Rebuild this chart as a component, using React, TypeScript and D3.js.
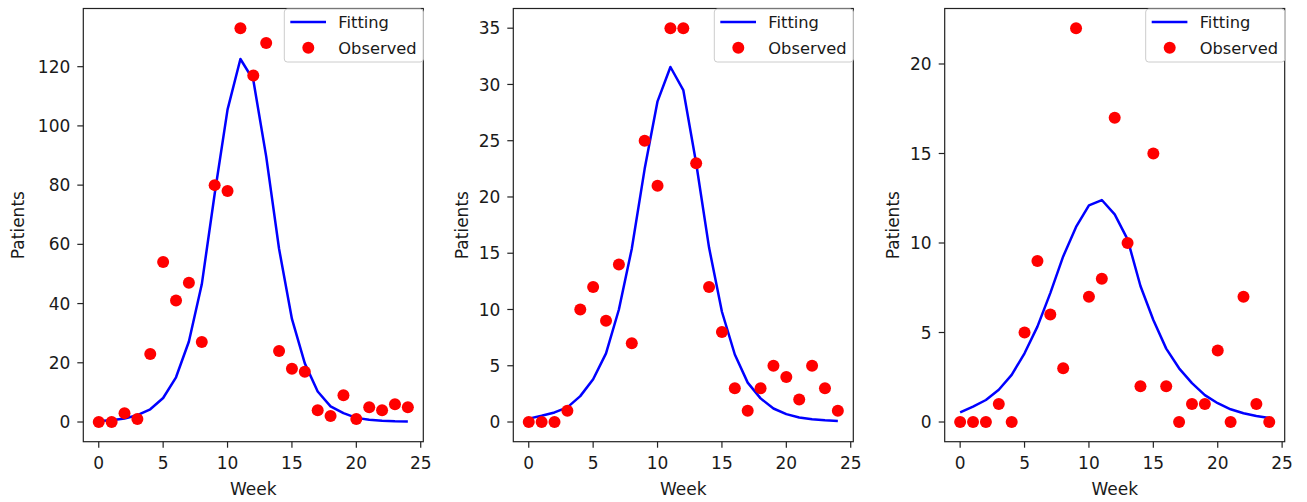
import React from "react";
import * as d3 from "d3";

const weeks = d3.range(0, 25);

const fit1 = [0.3, 0.6, 1.2, 2.3, 4.3, 8.1, 15.1, 27.2, 46.5, 77, 105.5, 122.6, 115.5, 89.7, 58.5, 34.8, 19.8, 10.3, 5.3, 3.0, 1.4, 0.8, 0.45, 0.25, 0.15];
const obs1 = [0, 0, 3, 1, 23, 54, 41, 47, 27, 80, 78, 133, 117, 128, 24, 18, 17, 4, 2, 9, 1, 5, 4, 6, 5];

const fit2 = [0.3, 0.55, 0.85, 1.3, 2.3, 3.8, 6.1, 10, 15.4, 22.5, 28.5, 31.55, 29.5, 23, 15.5, 9.8, 6, 3.5, 2.1, 1.2, 0.7, 0.4, 0.25, 0.15, 0.1];
const obs2 = [0, 0, 0, 1, 10, 12, 9, 14, 7, 25, 21, 35, 35, 23, 12, 8, 3, 1, 3, 5, 4, 2, 5, 3, 1];

const fit3 = [0.54, 0.86, 1.23, 1.8, 2.63, 3.84, 5.33, 7.2, 9.25, 10.9, 12.1, 12.4, 11.6, 10.2, 7.6, 5.7, 4.1, 3.0, 2.17, 1.5, 1.05, 0.71, 0.49, 0.34, 0.22];
const obs3 = [0, 0, 0, 1, 0, 5, 9, 6, 3, 22, 7, 8, 17, 10, 2, 15, 2, 0, 1, 1, 4, 0, 7, 1, 0];

const xTicks = [0, 5, 10, 15, 20, 25];
const yTicks1 = [0, 20, 40, 60, 80, 100, 120];
const yTicks2 = [0, 5, 10, 15, 20, 25, 30, 35];
const yTicks3 = [0, 5, 10, 15, 20];

const legendLabels = ["Fitting", "Observed"];
const xLabel = "Week";
const yLabel = "Patients";

const FONT = "'DejaVu Sans', sans-serif";
const TXT = "#1a1a1a";

type PanelProps = {
  left: number;
  fit: number[];
  obs: number[];
  yTicks: number[];
  ylabelX: number;
};

function Panel({ left, fit, obs, yTicks, ylabelX }: PanelProps) {
  const top = 8.5;
  const bottom = 441.7;
  const width = 340;
  const right = left + width;
  const ext = d3.extent([...fit, ...obs]) as [number, number];
  const ymin = Math.min(0, ext[0]);
  const ymax = ext[1];
  const ypad = (ymax - ymin) * 0.05;
  const x = d3.scaleLinear().domain([-1.2, 25.2]).range([left, right]);
  const y = d3.scaleLinear().domain([ymin - ypad, ymax + ypad]).range([bottom, top]);
  const line = d3
    .line<number>()
    .x((_, i) => x(weeks[i]))
    .y((d) => y(d));
  const tickLen = 6;
  const lgX = right - 139;
  const lgY = 9;
  return (
    <g>
      <path d={line(fit) || ""} fill="none" stroke="#0000ff" strokeWidth={2.5} strokeLinejoin="round" />
      {obs.map((v, i) => (
        <circle key={i} cx={x(weeks[i])} cy={y(v)} r={6} fill="#ff0000" />
      ))}
      <rect x={left} y={top} width={width} height={bottom - top} fill="none" stroke="#222" strokeWidth={1.2} />
      {xTicks.map((t) => (
        <g key={"x" + t}>
          <line x1={x(t)} x2={x(t)} y1={bottom} y2={bottom + tickLen} stroke="#222" strokeWidth={1.2} />
          <text x={x(t)} y={469} textAnchor="middle" fontFamily={FONT} fontSize={17} fill={TXT}>
            {t}
          </text>
        </g>
      ))}
      {yTicks.map((t) => (
        <g key={"y" + t}>
          <line x1={left - tickLen} x2={left} y1={y(t)} y2={y(t)} stroke="#222" strokeWidth={1.2} />
          <text x={left - tickLen - 7} y={y(t)} dy="0.36em" textAnchor="end" fontFamily={FONT} fontSize={17} fill={TXT}>
            {t}
          </text>
        </g>
      ))}
      <text x={(left + right) / 2} y={495} textAnchor="middle" fontFamily={FONT} fontSize={17} fill={TXT}>
        {xLabel}
      </text>
      <text
        transform={`translate(${ylabelX},${(top + bottom) / 2}) rotate(-90)`}
        textAnchor="middle"
        dy="0.36em"
        fontFamily={FONT}
        fontSize={17}
        fill={TXT}
      >
        {yLabel}
      </text>
      <g>
        <rect x={lgX} y={lgY} width={139} height={53} rx={3} fill="#fff" fillOpacity={0.8} stroke="#cccccc" strokeWidth={1} />
        <line x1={lgX + 6} x2={lgX + 41.7} y1={lgY + 13} y2={lgY + 13} stroke="#0000ff" strokeWidth={2.5} />
        <text x={lgX + 54} y={lgY + 13} dy="0.36em" fontFamily={FONT} fontSize={16.3} fill={TXT}>
          {legendLabels[0]}
        </text>
        <circle cx={lgX + 24} cy={lgY + 38.7} r={6} fill="#ff0000" />
        <text x={lgX + 54} y={lgY + 38.7} dy="0.36em" fontFamily={FONT} fontSize={16.3} fill={TXT}>
          {legendLabels[1]}
        </text>
      </g>
    </g>
  );
}

export default function App() {
  return (
    <svg
      width={1307}
      height={502}
      style={{ position: "absolute", left: 0, top: 0, background: "#fff" }}
    >
      <Panel left={83.3} fit={fit1} obs={obs1} yTicks={yTicks1} ylabelX={18} />
      <Panel left={513.3} fit={fit2} obs={obs2} yTicks={yTicks2} ylabelX={462} />
      <Panel left={944.7} fit={fit3} obs={obs3} yTicks={yTicks3} ylabelX={893} />
    </svg>
  );
}
